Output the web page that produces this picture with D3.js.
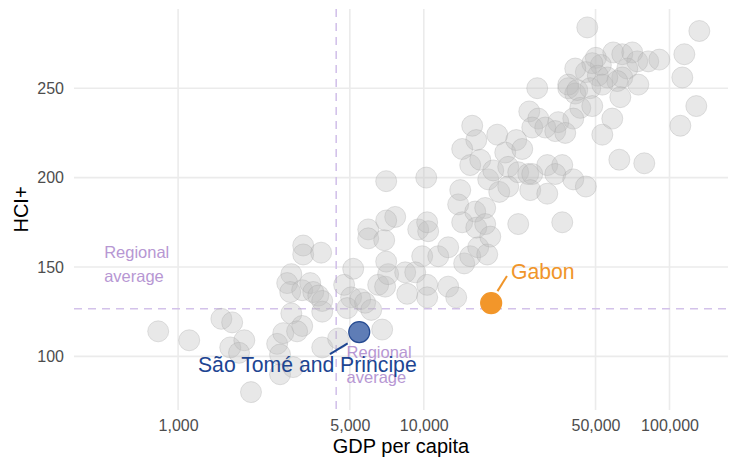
<!DOCTYPE html>
<html>
<head>
<meta charset="utf-8">
<script src="https://cdn.jsdelivr.net/npm/d3@7"></script>
<style>
  body { margin: 0; background: #fff; }
  text { font-family: "Liberation Sans", Arial, sans-serif; }
</style>
</head>
<body>
<svg class="chart"></svg>
<script>
// other countries (grey)
var gdpPerCapita = [830, 1110, 1500, 1660, 1630, 1860, 1770, 1980, 2530, 2680, 2600, 2600, 2940, 2890, 3200, 3050,
  3860, 4480, 2890, 2780, 2860, 3200, 3450, 3550, 3720, 3860, 3860, 3230, 3230, 3820, 4740, 5060, 4880, 5160,
  5510, 5770, 6110, 6770, 6520, 6960, 7160, 8400, 8560, 7030, 5940, 5940, 6900, 7030, 7650, 7030, 9490, 10420,
  10320, 10230, 9850, 11450, 12570, 14600, 15450, 16650, 18120, 9230, 10320, 10320, 12570, 13550, 14070, 13800,
  14330, 16190, 17780, 16350, 17780, 18640, 15740, 16350, 14330, 19900, 15450, 16970, 18290, 19170, 20280, 21450,
  28950, 38720, 41340, 23780, 25160, 26870, 29230, 27630, 43340, 40580, 22060, 22060, 24230, 26610, 27630, 27110,
  31800, 36600, 34280, 31800, 40580, 45660, 24230, 36600, 46270, 132240, 114900, 112760, 128540, 110660, 59040,
  64240, 70560, 73920, 81960, 90890, 50150, 52560, 45660, 48490, 41340, 67310, 64240, 61290, 55820, 51100, 38720,
  42130, 47590, 53260, 63070, 74650, 58490, 53260, 35260, 31210, 34280, 37640, 62480, 78950, 48490];
var hciPlus = [114, 109, 121, 119, 105, 109, 102, 80, 107, 113, 101, 90, 94, 124, 117, 114,
  105, 110, 146, 141, 136, 137, 141, 136, 134, 131, 125, 162, 157, 158, 140, 133, 127, 149,
  132, 130, 126, 115, 140, 139, 146, 147, 135, 153, 171, 166, 165, 198, 178, 176, 171, 170,
  175, 200, 156, 156, 161, 152, 156, 161, 157, 147, 140, 133, 139, 133, 193, 185,
  175, 181, 183, 172, 174, 167, 229, 221, 216, 224, 207, 210, 199, 204, 192, 214,
  250, 250, 247, 221, 216, 237, 233, 228, 239, 233, 195, 206, 203, 202, 202, 193,
  207, 207, 202, 191, 199, 195, 174, 175, 284, 282, 269, 256, 240, 229, 270,
  269, 270, 265, 265, 266, 267, 263, 259, 264, 261, 261, 256, 254, 256, 257, 252,
  249, 250, 252, 245, 252, 233, 224, 231, 228, 226, 225, 210, 208, 240];

// highlighted countries
var highlightNames = ["São Tomé and Principe", "Gabon"];
var highlightGdp = [5460, 18800];
var highlightHci = [113.6, 129.8];
var highlightColors = ["#5f7db6", "#f2962a"];
var highlightStrokes = ["#254a91", "#f2962a"];
var labelColors = ["#1d4592", "#f0952a"];

// regional average
var regionalGdp = 4400;
var regionalHci = 126.6;

var xTicks = [1000, 5000, 10000, 50000, 100000];
var yTicks = [100, 150, 200, 250];

var W = 731, H = 457;
var plotLeft = 74, plotRight = 728, plotTop = 9, plotBottom = 410;

var purple = "#b797d3";

var x = d3.scaleLog().domain([377, 173000]).range([plotLeft, plotRight]);
var y = d3.scaleLinear().domain([70, 294.3]).range([plotBottom, plotTop]);

var svg = d3.select(".chart")
    .attr("width", W)
    .attr("height", H);

// grid
svg.append("g")
  .selectAll("line")
  .data(yTicks)
  .join("line")
    .attr("x1", plotLeft).attr("x2", plotRight)
    .attr("y1", d => y(d)).attr("y2", d => y(d))
    .attr("stroke", "#ebebeb")
    .attr("stroke-width", 1.6);

svg.append("g")
  .selectAll("line")
  .data(xTicks)
  .join("line")
    .attr("x1", d => x(d)).attr("x2", d => x(d))
    .attr("y1", plotTop).attr("y2", plotBottom)
    .attr("stroke", "#ebebeb")
    .attr("stroke-width", 1.6);

// axes (labels only)
var xAxis = d3.axisBottom(x).tickValues(xTicks).tickFormat(d3.format(",")).tickSize(0).tickPadding(9.3);
var yAxis = d3.axisLeft(y).tickValues(yTicks).tickSize(0).tickPadding(10);

svg.append("g")
    .attr("transform", "translate(0," + plotBottom + ")")
    .call(xAxis)
    .call(g => g.select(".domain").remove())
    .selectAll("text")
    .attr("font-size", 16)
    .attr("font-family", "Liberation Sans, Arial, sans-serif")
    .attr("fill", "#4d4d4d");

svg.append("g")
    .attr("transform", "translate(" + plotLeft + ",0)")
    .call(yAxis)
    .call(g => g.select(".domain").remove())
    .selectAll("text")
    .attr("font-size", 16)
    .attr("font-family", "Liberation Sans, Arial, sans-serif")
    .attr("fill", "#4d4d4d");

svg.append("text")
    .attr("x", (plotLeft + plotRight) / 2)
    .attr("y", 453.3)
    .attr("text-anchor", "middle")
    .attr("font-size", 20)
    .attr("fill", "#000")
    .text("GDP per capita");

svg.append("text")
    .attr("transform", "translate(28," + (plotTop + plotBottom) / 2 + ") rotate(-90)")
    .attr("text-anchor", "middle")
    .attr("font-size", 20)
    .attr("fill", "#000")
    .text("HCI+");

// regional average lines
svg.append("line")
    .attr("x1", plotLeft).attr("x2", plotRight)
    .attr("y1", y(regionalHci)).attr("y2", y(regionalHci))
    .attr("stroke", "#d3c2ea")
    .attr("stroke-width", 1.6)
    .attr("stroke-dasharray", "8,6");

svg.append("line")
    .attr("x1", x(regionalGdp)).attr("x2", x(regionalGdp))
    .attr("y1", plotTop).attr("y2", plotBottom)
    .attr("stroke", "#d3c2ea")
    .attr("stroke-width", 1.6)
    .attr("stroke-dasharray", "8,6");

// grey points
svg.append("g")
  .selectAll("circle")
  .data(d3.range(gdpPerCapita.length))
  .join("circle")
    .attr("cx", i => x(gdpPerCapita[i]))
    .attr("cy", i => y(hciPlus[i]))
    .attr("r", 10.5)
    .attr("fill", "#bdbdbd")
    .attr("fill-opacity", 0.34)
    .attr("stroke", "#a8a8a8")
    .attr("stroke-opacity", 0.33)
    .attr("stroke-width", 1);

// regional average labels
var regLabels = [
  {gdp: 500, hci: 155.2},
  {gdp: 4850, hci: 98.9}
];
regLabels.forEach(function(p) {
  var t = svg.append("text")
      .attr("x", x(p.gdp))
      .attr("y", y(p.hci))
      .attr("font-size", 16.5)
      .attr("fill", purple);
  t.append("tspan").attr("x", x(p.gdp)).text("Regional");
  t.append("tspan").attr("x", x(p.gdp)).attr("dy", 24.5).text("average");
});

// highlighted points
svg.append("g")
  .selectAll("circle")
  .data(d3.range(highlightNames.length))
  .join("circle")
    .attr("cx", i => x(highlightGdp[i]))
    .attr("cy", i => y(highlightHci[i]))
    .attr("r", 10.5)
    .attr("fill", i => highlightColors[i])
    .attr("stroke", i => highlightStrokes[i])
    .attr("stroke-width", 1.2);

// leader lines + labels
var leaders = [
  {x1: 4150, y1: 101.2, x2: 4900, y2: 107.3},
  {x1: 19950, y1: 136.5, x2: 21800, y2: 145}
];
var labelPos = [
  {gdp: 1205, hci: 91.2, anchor: "start"},
  {gdp: 22650, hci: 143.2, anchor: "start"}
];

highlightNames.forEach(function(name, i) {
  svg.append("line")
      .attr("x1", x(leaders[i].x1)).attr("y1", y(leaders[i].y1))
      .attr("x2", x(leaders[i].x2)).attr("y2", y(leaders[i].y2))
      .attr("stroke", labelColors[i])
      .attr("stroke-width", 2);
  svg.append("text")
      .attr("x", x(labelPos[i].gdp))
      .attr("y", y(labelPos[i].hci))
      .attr("text-anchor", labelPos[i].anchor)
      .attr("font-size", 21.2)
      .attr("fill", labelColors[i])
      .text(name);
});
</script>
</body>
</html>
